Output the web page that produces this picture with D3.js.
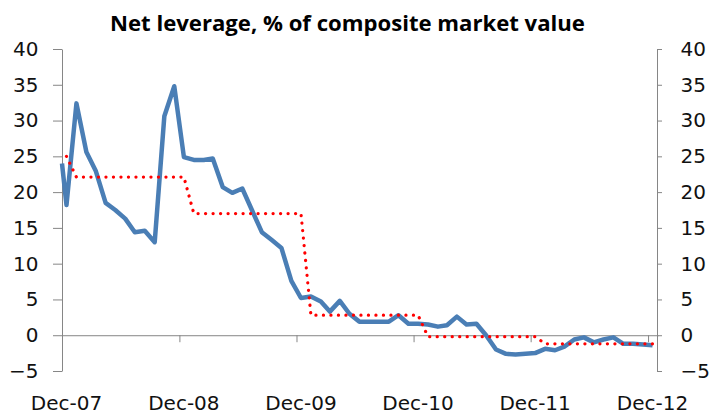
<!DOCTYPE html>
<html><head><meta charset="utf-8">
<script src="https://cdn.jsdelivr.net/npm/d3@7"></script>
<style>html,body{margin:0;padding:0;background:#fff;} svg{display:block;}</style>
</head><body>
<svg id="chart" width="713" height="417"></svg>
<script>
const titleText = "Net leverage, % of composite market value";

const months = [
  "2007-12",
  "2008-01","2008-02","2008-03","2008-04","2008-05","2008-06","2008-07","2008-08","2008-09","2008-10","2008-11","2008-12",
  "2009-01","2009-02","2009-03","2009-04","2009-05","2009-06","2009-07","2009-08","2009-09","2009-10","2009-11","2009-12",
  "2010-01","2010-02","2010-03","2010-04","2010-05","2010-06","2010-07","2010-08","2010-09","2010-10","2010-11","2010-12",
  "2011-01","2011-02","2011-03","2011-04","2011-05","2011-06","2011-07","2011-08","2011-09","2011-10","2011-11","2011-12",
  "2012-01","2012-02","2012-03","2012-04","2012-05","2012-06","2012-07","2012-08","2012-09","2012-10","2012-11","2012-12"
];

// first reading at the very start of the axis
const startDate = "2007-12-01";
const startValue = 24.0;

const netLeverage = [
  18.2,
  32.4, 25.6, 23.0, 18.5, 17.5, 16.3, 14.4, 14.6, 13.0, 30.6, 34.8, 24.9,
  24.5, 24.5, 24.7, 20.7, 19.9, 20.5, 17.5, 14.4, 13.3, 12.2, 7.6, 5.2,
  5.4, 4.7, 3.3, 4.8, 3.0, 1.9, 1.9, 1.9, 1.9, 2.8, 1.6, 1.6,
  1.5, 1.2, 1.4, 2.6, 1.5, 1.6, 0.0, -2.0, -2.6, -2.7, -2.6, -2.5,
  -1.9, -2.1, -1.6, -0.6, -0.3, -1.0, -0.6, -0.3, -1.2, -1.2, -1.3, -1.4
];

const annualAverage = [
  25.0,
  22.1, 22.1, 22.1, 22.1, 22.1, 22.1, 22.1, 22.1, 22.1, 22.1, 22.1, 22.1,
  17.0, 17.0, 17.0, 17.0, 17.0, 17.0, 17.0, 17.0, 17.0, 17.0, 17.0, 17.0,
  2.8, 2.8, 2.8, 2.8, 2.8, 2.8, 2.8, 2.8, 2.8, 2.8, 2.8, 2.8,
  -0.2, -0.2, -0.2, -0.2, -0.2, -0.2, -0.2, -0.2, -0.2, -0.2, -0.2, -0.2,
  -1.2, -1.2, -1.2, -1.2, -1.2, -1.2, -1.2, -1.2, -1.2, -1.2, -1.2, -1.2
];

const yTicks = [-5, 0, 5, 10, 15, 20, 25, 30, 35, 40];
const xTickMonths = ["2007-12", "2008-12", "2009-12", "2010-12", "2011-12", "2012-12"];
const xTickLabels = ["Dec-07", "Dec-08", "Dec-09", "Dec-10", "Dec-11", "Dec-12"];

const parseMonth = d3.timeParse("%Y-%m");
const parseDay = d3.timeParse("%Y-%m-%d");
const midMonth = m => d3.timeDay.offset(parseMonth(m), 14);

const svg = d3.select("#chart");
const axisColor = "#868686";
const tickFont = "'DejaVu Sans', sans-serif";

const x = d3.scaleTime()
  .domain([parseMonth("2007-12"), parseMonth("2013-01")])
  .range([62, 658]);
const y = d3.scaleLinear().domain([-5, 40]).range([371, 49]);

// title
const t = svg.append("text")
  .attr("x", 347.5).attr("y", 30.5)
  .attr("text-anchor", "middle")
  .style("font-family", "'Open Sans', sans-serif")
  .style("font-weight", "bold")
  .style("font-size", "20px")
  .attr("fill", "#000")
  .text(titleText);
const tw = t.node().getComputedTextLength();
t.style("font-size", (20 * 475 / tw).toFixed(2) + "px");

function styleAxis(g) {
  g.select(".domain").attr("stroke", axisColor).attr("stroke-width", 1);
  g.selectAll(".tick line").attr("stroke", axisColor).attr("stroke-width", 1);
  g.selectAll(".tick text").attr("fill", "#111")
    .style("font-family", tickFont).style("font-size", "20px");
}

// left axis
svg.append("g").attr("transform", "translate(62,0)")
  .call(d3.axisLeft(y).tickValues(yTicks).tickSize(9).tickSizeOuter(0).tickPadding(14.5))
  .call(styleAxis);

// right axis
svg.append("g").attr("transform", "translate(657,0)")
  .call(d3.axisRight(y).tickValues(yTicks).tickSize(5).tickSizeOuter(0).tickPadding(18.5))
  .call(styleAxis);

// bottom axis at zero
const xAxisG = svg.append("g").attr("transform", `translate(0,${y(0)})`)
  .call(d3.axisBottom(x).tickValues(xTickMonths.map(parseMonth)).tickSize(7).tickSizeOuter(0).tickFormat(""))
  .call(styleAxis);

// x labels centred on the month
svg.append("g").selectAll("text")
  .data(xTickMonths)
  .join("text")
  .attr("x", d => x(midMonth(d)))
  .attr("y", 410)
  .attr("text-anchor", "middle")
  .attr("fill", "#111")
  .style("font-family", tickFont)
  .style("font-size", "20px")
  .text((d, i) => xTickLabels[i]);

// series
const bluePts = [{ date: parseDay(startDate), v: startValue }]
  .concat(months.map((m, i) => ({ date: midMonth(m), v: netLeverage[i] })));
const redPts = months.map((m, i) => ({ date: midMonth(m), v: annualAverage[i] }));

const line = d3.line().x(d => x(d.date)).y(d => y(d.v));

svg.append("path").datum(bluePts)
  .attr("d", line)
  .attr("fill", "none")
  .attr("stroke", "#4A7EB5")
  .attr("stroke-width", 4.5)
  .attr("stroke-linejoin", "round")
  .attr("stroke-linecap", "butt");

svg.append("path").datum(redPts)
  .attr("d", line)
  .attr("fill", "none")
  .attr("stroke", "#FF0000")
  .attr("stroke-width", 3.2)
  .attr("stroke-dasharray", "0.1 7.4")
  .attr("stroke-linecap", "round");
</script>
</body></html>
